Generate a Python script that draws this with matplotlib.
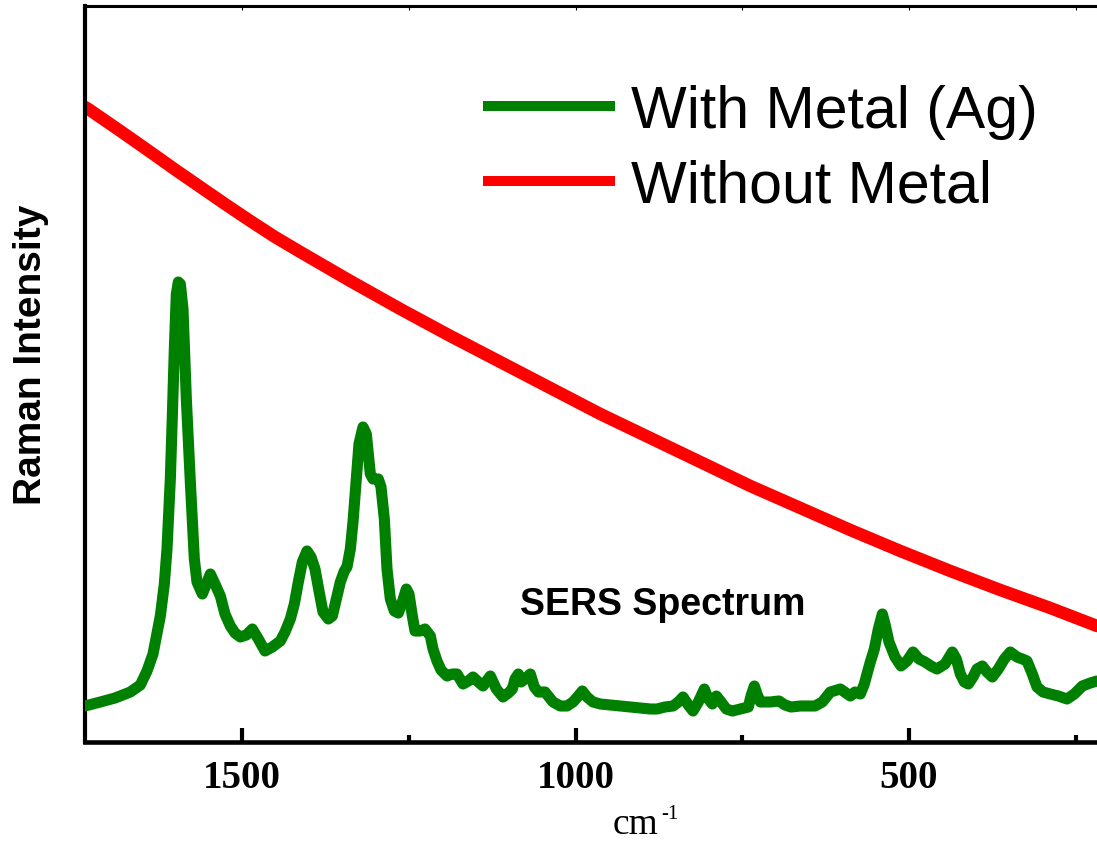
import numpy as np
import matplotlib

matplotlib.use('Agg')
import matplotlib.pyplot as plt

# ---- data ----
# SERS spectrum, with Ag
wn_ag = [1736, 1713, 1691, 1668, 1653, 1643, 1634, 1623, 1617, 1613, 1608, 1605, 1602, 1599,
         1596, 1593, 1589, 1584, 1578, 1572, 1568, 1560, 1554, 1548, 1541, 1533, 1526, 1518,
         1511, 1503, 1494, 1485, 1476, 1466, 1455, 1443, 1436, 1428, 1422, 1416, 1410, 1403,
         1397, 1391, 1385, 1379, 1371, 1365, 1359, 1353, 1347, 1343, 1338, 1334, 1329, 1325,
         1319, 1314, 1311, 1308, 1304, 1296, 1292, 1287, 1283, 1278, 1272, 1266, 1260, 1254,
         1250, 1245, 1241, 1233, 1226, 1218, 1214, 1208, 1202, 1193, 1185, 1178, 1169, 1161,
         1154, 1146, 1139, 1128, 1119, 1109, 1101, 1095, 1091, 1086, 1082, 1076, 1068, 1062,
         1056, 1046, 1034, 1023, 1013, 1004, 996, 990, 983, 974, 963, 948, 933, 918, 903, 888,
         878, 866, 854, 846, 839, 831, 824, 816, 807, 801, 795, 789, 783, 774, 765, 753, 741,
         737, 732, 728, 723, 708, 695, 686, 677, 663, 641, 630, 618, 603, 588, 581, 573, 567,
         563, 558, 552, 546, 540, 536, 530, 521, 512, 503, 494, 485, 476, 467, 458, 446, 435,
         429, 423, 417, 411, 404, 398, 390, 383, 375, 366, 357, 348, 342, 338, 330, 323, 315,
         308, 299, 288, 276, 263, 252, 240, 228, 218]
int_ag = [36, 40, 44, 50, 57, 71, 88, 126, 158, 193, 263, 326, 393, 448,
          460, 458, 433, 343, 260, 183, 160, 148, 158, 168, 158, 146, 128, 116,
          109, 105, 107, 113, 103, 91, 95, 101, 110, 123, 138, 160, 180, 191,
          185, 173, 151, 130, 123, 126, 143, 160, 171, 175, 193, 220, 263, 298,
          315, 308, 288, 268, 263, 263, 255, 223, 173, 143, 131, 129, 140, 153,
          148, 126, 111, 111, 113, 106, 93, 81, 72, 66, 68, 68, 58, 61,
          65, 60, 56, 66, 53, 45, 49, 53, 63, 68, 60, 63, 68, 55,
          50, 50, 40, 36, 36, 40, 46, 51, 45, 40, 38, 37, 36, 35, 34, 33,
          33, 35, 36, 40, 45, 37, 31, 40, 53, 43, 38, 46, 41, 33, 31, 33, 35,
          46, 56, 48, 40, 40, 41, 37, 35, 36, 36, 40, 50, 53, 46, 50, 48, 58,
          68, 80, 93, 113, 128, 118, 100, 85, 76, 81, 90, 83, 80, 76, 73, 78, 90,
          83, 68, 60, 58, 65, 73, 76, 70, 65, 73, 83, 90, 87, 85, 83, 81, 68,
          55, 50, 48, 46, 43, 48, 56, 59, 61]

# background without metal
wn_bare = [1736, 1731, 1683, 1638, 1600, 1563, 1526, 1488, 1451, 1413, 1338, 1263, 1188,
           1113, 1038, 963, 888, 813, 738, 663, 588, 513, 438, 363, 288, 218]
int_bare = [635, 633, 611, 590, 572, 555, 538, 521, 505, 490, 461, 433, 406,
            380, 354, 328, 304, 280, 256, 234, 212, 191, 171, 152, 134, 116]

tick_major = [1500, 1000, 500]
tick_minor = [1250, 750, 250]

# ---- figure ----
W, H = 1097, 845
fig = plt.figure(figsize=(W / 100, H / 100), dpi=100)
ax = fig.add_axes([85 / W, (H - 743) / H, (W - 85) / W, 736 / H])

ax.plot(wn_ag, int_ag, color='#008000', lw=8, solid_capstyle='round',
        solid_joinstyle='round', label='With Metal (Ag)', zorder=3)
ax.plot(wn_bare, int_bare, color='#ff0000', lw=9, solid_capstyle='round',
        solid_joinstyle='round', label='Without Metal', zorder=2)

ax.set_xlim(1736, 218)
ax.set_ylim(0, 736)
ax.set_yticks([])
ax.set_xticks(tick_major)
ax.set_xticks(tick_minor, minor=True)
ax.set_xticklabels([str(t) for t in tick_major], family='Liberation Serif',
                   fontweight='bold', fontsize=28)
ax.tick_params(axis='x', which='major', direction='in', length=10, width=3, pad=12)
ax.tick_params(axis='x', which='minor', direction='in', length=5, width=3)

ax.spines['right'].set_visible(False)
ax.spines['left'].set_linewidth(3)
ax.spines['bottom'].set_linewidth(3.3)
ax.spines['top'].set_linewidth(2.2)

# thin ticks along the top edge
top = ax.secondary_xaxis('top')
top.set_xticks(tick_major + tick_minor)
top.set_xticklabels([])
top.tick_params(direction='in', length=3, width=0.8)
top.spines['top'].set_visible(False)

# x label: "cm" with a small raised "-1"
ax.set_xlabel('cm', family='Liberation Serif', fontsize=27)
ax.xaxis.set_label_coords((636 - 85) / (W - 85), -(808 - 743) / 736)
fig.text(661 / W, 1 - 819 / H, '-1', family='Liberation Serif', fontsize=15,
         ha='left', va='baseline')

fig.text(31 / W, 1 - 355 / H, 'Raman Intensity', rotation=90, ha='center', va='center',
         family='Liberation Sans', fontweight='bold', fontsize=28)

ax.text(1083, 128, 'SERS Spectrum', family='Liberation Sans', fontweight='bold',
        fontsize=27, ha='left', va='baseline')

leg = ax.legend(loc='upper left', bbox_to_anchor=(483 / W, 1 - 85 / H),
                bbox_transform=fig.transFigure, frameon=False,
                prop={'family': 'Liberation Sans', 'size': 42.5},
                handlelength=2.24, handletextpad=0.27, labelspacing=0.33,
                borderpad=0, borderaxespad=0)
for line in leg.get_lines():
    line.set_linewidth(7.2)
    line.set_solid_capstyle('butt')

fig.savefig('out.png', dpi=100)
